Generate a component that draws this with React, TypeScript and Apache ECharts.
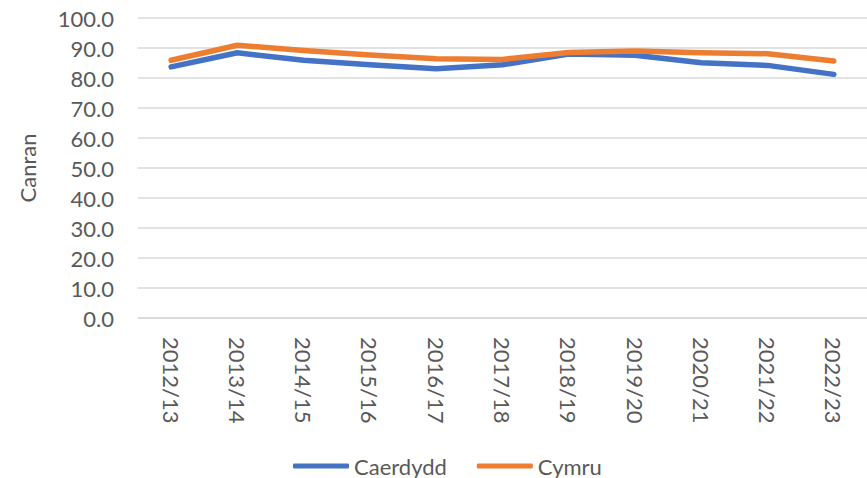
import React, { useEffect, useRef } from "react";
import * as echarts from "echarts";

const categories = [
  "2012/13", "2013/14", "2014/15", "2015/16", "2016/17", "2017/18",
  "2018/19", "2019/20", "2020/21", "2021/22", "2022/23",
];
const caerdydd = [83.7, 88.4, 85.9, 84.4, 83.1, 84.4, 88.0, 87.6, 85.1, 84.2, 81.2];
const cymru = [85.9, 90.9, 89.2, 87.7, 86.4, 86.2, 88.5, 89.0, 88.4, 88.1, 85.7];
const yAxisName = "Canran";
const seriesNames = ["Caerdydd", "Cymru"];

const FONT = "Lato";
const TEXT = "#595959";
const GRID = "#d9d9d9";

export default function App() {
  const ref = useRef<HTMLDivElement>(null);
  useEffect(() => {
    if (!ref.current) return;
    const chart = echarts.init(ref.current, null, { renderer: "svg" });
    chart.setOption({
      animation: false,
      backgroundColor: "#ffffff",
      textStyle: { fontFamily: FONT },
      grid: { left: 138, right: -19, top: 18, bottom: 160, containLabel: false },
      legend: {
        left: 288,
        top: 450,
        icon: "roundRect",
        itemWidth: 56,
        itemHeight: 5,
        itemGap: 30,
        textStyle: { fontFamily: FONT, fontSize: 22, color: TEXT },
        data: seriesNames,
      },
      xAxis: {
        type: "category",
        data: categories,
        boundaryGap: true,
        axisTick: { show: false },
        axisLine: { show: true, lineStyle: { color: GRID, width: 1.5 } },
        axisLabel: {
          rotate: -90,
          margin: 19,
          interval: 0,
          fontFamily: FONT,
          fontSize: 22,
          color: TEXT,
        },
      },
      yAxis: {
        type: "value",
        min: 0,
        max: 100,
        interval: 10,
        name: yAxisName,
        nameLocation: "middle",
        nameGap: 100,
        nameTextStyle: { fontFamily: FONT, fontSize: 22, color: TEXT },
        axisLine: { show: false },
        axisTick: { show: false },
        splitLine: { lineStyle: { color: GRID, width: 1.5 } },
        axisLabel: {
          margin: 24,
          fontFamily: FONT,
          fontSize: 22,
          color: TEXT,
          formatter: (v: number) => v.toFixed(1),
        },
      },
      series: [
        {
          name: seriesNames[0],
          type: "line",
          data: caerdydd,
          showSymbol: false,
          symbol: "none",
          color: "#4472C4",
          lineStyle: { width: 5.5, color: "#4472C4", cap: "round", join: "round" },
        },
        {
          name: seriesNames[1],
          type: "line",
          data: cymru,
          showSymbol: false,
          symbol: "none",
          color: "#ED7D31",
          lineStyle: { width: 5.5, color: "#ED7D31", cap: "round", join: "round" },
        },
      ],
    });
    return () => chart.dispose();
  }, []);
  return (
    <div
      ref={ref}
      style={{ position: "absolute", left: 0, top: 0, width: 867, height: 478, background: "#fff" }}
    />
  );
}
